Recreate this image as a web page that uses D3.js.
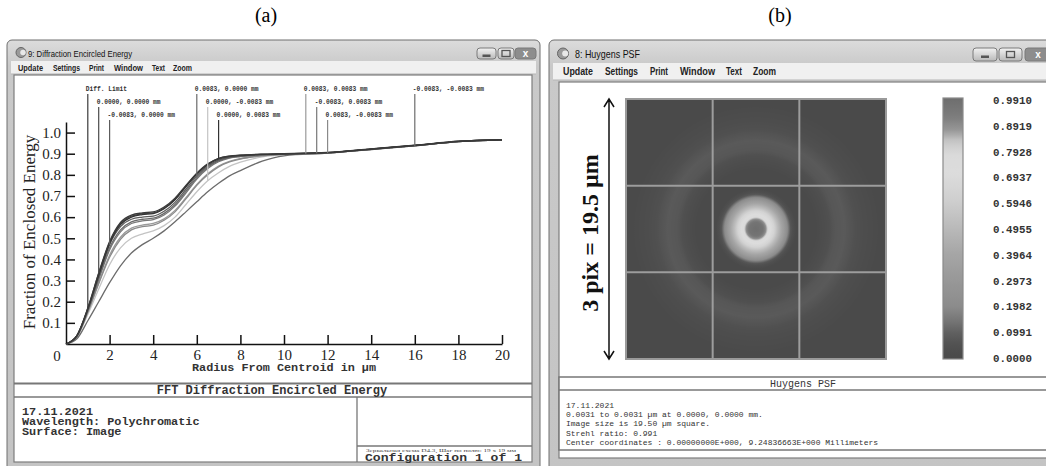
<!DOCTYPE html>
<html>
<head>
<meta charset="utf-8">
<script src="https://cdn.jsdelivr.net/npm/d3@7"></script>
<style>
  body { margin: 0; background: #fff; }
  svg { display: block; }
</style>
</head>
<body>
<svg id="fig" width="1046" height="466"></svg>
<script>
// ---- data: encircled energy (panel a) ----
const radius = [0, 0.5, 1, 1.5, 2, 2.5, 3, 3.5, 4, 4.5, 5, 5.5, 6, 6.5, 7, 7.5, 8, 9, 10, 12, 14, 16, 18, 20];

const fieldNames = ["Diff. Limit", "0.0000, 0.0000 mm", "-0.0083, 0.0000 mm",
  "0.0083, 0.0000 mm", "0.0000, -0.0083 mm", "0.0000, 0.0083 mm",
  "0.0083, 0.0083 mm", "-0.0083, 0.0083 mm", "0.0083, -0.0083 mm", "-0.0083, -0.0083 mm"];

// radius where each field label points at its curve
const labelRadius = [1, 1.5, 2, 6, 6.5, 7, 11, 11.5, 12, 16];

const energy = [
  [0, 0.040, 0.170, 0.335, 0.485, 0.575, 0.610, 0.620, 0.625, 0.648, 0.690, 0.750, 0.808, 0.852, 0.877, 0.888, 0.893, 0.898, 0.900, 0.906, 0.923, 0.940, 0.959, 0.967],
  [0, 0.040, 0.168, 0.335, 0.480, 0.570, 0.605, 0.616, 0.620, 0.643, 0.685, 0.745, 0.803, 0.848, 0.874, 0.886, 0.891, 0.897, 0.899, 0.905, 0.922, 0.939, 0.958, 0.966],
  [0, 0.038, 0.162, 0.320, 0.470, 0.555, 0.590, 0.600, 0.605, 0.628, 0.670, 0.732, 0.795, 0.842, 0.870, 0.884, 0.890, 0.896, 0.899, 0.905, 0.922, 0.938, 0.958, 0.966],
  [0, 0.037, 0.158, 0.310, 0.455, 0.540, 0.578, 0.590, 0.595, 0.618, 0.660, 0.722, 0.787, 0.836, 0.866, 0.882, 0.888, 0.895, 0.898, 0.904, 0.921, 0.938, 0.957, 0.965],
  [0, 0.033, 0.140, 0.260, 0.375, 0.455, 0.500, 0.520, 0.535, 0.560, 0.600, 0.660, 0.720, 0.772, 0.810, 0.840, 0.860, 0.885, 0.895, 0.903, 0.920, 0.937, 0.957, 0.965],
  [0, 0.039, 0.165, 0.325, 0.475, 0.565, 0.600, 0.612, 0.617, 0.640, 0.682, 0.745, 0.805, 0.850, 0.878, 0.889, 0.893, 0.897, 0.899, 0.905, 0.922, 0.939, 0.958, 0.966],
  [0, 0.036, 0.152, 0.290, 0.420, 0.505, 0.548, 0.562, 0.570, 0.592, 0.632, 0.692, 0.755, 0.805, 0.842, 0.864, 0.877, 0.891, 0.897, 0.904, 0.921, 0.938, 0.957, 0.965],
  [0, 0.037, 0.157, 0.305, 0.445, 0.530, 0.570, 0.582, 0.588, 0.610, 0.652, 0.714, 0.780, 0.830, 0.862, 0.879, 0.886, 0.894, 0.898, 0.904, 0.921, 0.938, 0.957, 0.965],
  [0, 0.035, 0.150, 0.285, 0.410, 0.495, 0.540, 0.555, 0.562, 0.585, 0.625, 0.686, 0.750, 0.800, 0.838, 0.861, 0.875, 0.890, 0.897, 0.904, 0.921, 0.938, 0.957, 0.965],
  [0, 0.025, 0.110, 0.200, 0.290, 0.370, 0.430, 0.470, 0.500, 0.535, 0.578, 0.625, 0.673, 0.720, 0.760, 0.795, 0.820, 0.865, 0.890, 0.903, 0.920, 0.937, 0.957, 0.965]
];

const energyTicks = [0.1, 0.2, 0.3, 0.4, 0.5, 0.6, 0.7, 0.8, 0.9, 1.0];
const radiusTicks = [2, 4, 6, 8, 10, 12, 14, 16, 18, 20];

const infoA = ["17.11.2021", "Wavelength: Polychromatic", "Surface: Image"];
const infoB = ["17.11.2021", "0.0031 to 0.0031 \u00b5m at 0.0000, 0.0000 mm.",
  "Image size is 19.50 \u00b5m square.", "Strehl ratio: 0.991",
  "Center coordinates  :  0.00000000E+000,  9.24836663E+000 Millimeters"];

// ---- data: Huygens PSF (panel b) ----
const psfRadius = [0, 0.5, 0.75, 0.9, 1.1, 1.35, 1.6, 1.85, 2.1, 2.35, 2.6, 3.0, 4.5, 5.2, 5.9, 6.6, 7.2, 8.0, 9.3, 14];
const psfIntensity = [0.99, 0.96, 0.88, 0.78, 0.70, 0.64, 0.52, 0.42, 0.32, 0.2, 0.07, 0.0, 0.0, 0.03, 0.07, 0.08, 0.06, 0.03, 0.0, 0.0];
const imageSize = 19.5; // um
const colorTicks = [0.9910, 0.8919, 0.7928, 0.6937, 0.5946, 0.4955, 0.3964, 0.2973, 0.1982, 0.0991, 0.0000];

// grayscale rendering of the rainbow map
const cmapLevel = [0, 0.05, 0.1, 0.15, 0.2, 0.3, 0.4, 0.5, 0.6, 0.7, 0.78, 0.83, 0.87, 0.92, 1.0];
const cmapGray = [74, 80, 96, 120, 140, 152, 166, 186, 206, 220, 218, 196, 150, 124, 108];

const menuItems = ["Update", "Settings", "Print", "Window", "Text", "Zoom"];

const svg = d3.select("#fig");
const defs = svg.append("defs");
const mono = "'Liberation Mono', 'Courier New', monospace";
const serif = "'Liberation Serif', 'Times New Roman', serif";
const sans = "'Liberation Sans', Arial, sans-serif";

const fg = defs.append("linearGradient").attr("id", "frameGrad").attr("x1", 0).attr("y1", 0).attr("x2", 0).attr("y2", 1);
fg.append("stop").attr("offset", 0).attr("stop-color", "#dcdcdc");
fg.append("stop").attr("offset", 0.06).attr("stop-color", "#c9c9c9");
fg.append("stop").attr("offset", 1).attr("stop-color", "#c4c4c4");

const bg = defs.append("linearGradient").attr("id", "btnGrad").attr("x1", 0).attr("y1", 0).attr("x2", 0).attr("y2", 1);
bg.append("stop").attr("offset", 0).attr("stop-color", "#f2f2f2");
bg.append("stop").attr("offset", 1).attr("stop-color", "#b9b9b9");

// figure labels
svg.append("text").attr("x", 266).attr("y", 22).attr("text-anchor", "middle")
  .style("font", "20px " + serif).text("(a)");
svg.append("text").attr("x", 780).attr("y", 22).attr("text-anchor", "middle")
  .style("font", "20px " + serif).text("(b)");

function drawWindow(o) {
  const g = svg.append("g");
  g.append("rect").attr("x", o.x).attr("y", o.y).attr("width", o.w).attr("height", o.h)
    .attr("rx", 5).attr("fill", "url(#frameGrad)").attr("stroke", "#6f6f6f");
  // icon
  g.append("circle").attr("cx", o.x + 14).attr("cy", o.y + o.titleH / 2 + 2).attr("r", o.iconR)
    .attr("fill", "#9a9a9a").attr("stroke", "#666");
  g.append("circle").attr("cx", o.x + 14 + o.iconR * 0.4).attr("cy", o.y + o.titleH / 2 + 2).attr("r", o.iconR * 0.55)
    .attr("fill", "#e8e8e8");
  g.append("text").attr("x", o.x + o.titleX).attr("y", o.y + o.titleH / 2 + 6)
    .style("font", o.titleFont).attr("fill", "#111")
    .attr("textLength", o.titleLen).attr("lengthAdjust", "spacingAndGlyphs").text(o.title);
  // caption buttons
  o.buttons.forEach((b, i) => {
    g.append("rect").attr("x", b[0]).attr("y", o.y + o.btnY).attr("width", b[1]).attr("height", o.btnH)
      .attr("rx", 3).attr("fill", i === 2 ? "#8d8d8d" : "url(#btnGrad)").attr("stroke", "#7a7a7a");
    const cx = b[0] + b[1] / 2, cy = o.y + o.btnY + o.btnH / 2;
    if (i === 0) g.append("rect").attr("x", cx - 4).attr("y", cy + 1).attr("width", 8).attr("height", 2.5).attr("fill", "#555");
    if (i === 1) g.append("rect").attr("x", cx - 4).attr("y", cy - 3).attr("width", 8).attr("height", 6)
      .attr("fill", "none").attr("stroke", "#555").attr("stroke-width", 1.3);
    if (i === 2) g.append("text").attr("x", cx).attr("y", cy + 3.5).attr("text-anchor", "middle")
      .style("font", "bold 10px " + sans).attr("fill", "#fff").text("x");
  });
  // menu bar
  g.append("rect").attr("x", o.x + 4).attr("y", o.y + o.titleH).attr("width", o.w - 8).attr("height", o.menuH)
    .attr("fill", "#f0f0f0");
  g.append("line").attr("x1", o.x + 4).attr("x2", o.x + o.w - 4)
    .attr("y1", o.y + o.titleH + o.menuH).attr("y2", o.y + o.titleH + o.menuH).attr("stroke", "#b5b5b5");
  menuItems.forEach((m, i) => {
    g.append("text").attr("x", o.menuX[i]).attr("y", o.y + o.titleH + o.menuH / 2 + o.menuSize * 0.36)
      .style("font", "bold " + o.menuSize + "px " + sans).attr("fill", "#222")
      .attr("textLength", o.menuW[i]).attr("lengthAdjust", "spacingAndGlyphs").text(m);
  });
  // content area
  g.append("rect").attr("x", o.cx).attr("y", o.cy).attr("width", o.cw).attr("height", o.ch)
    .attr("fill", "#fff").attr("stroke", "#7d7d7d").attr("stroke-width", 1.2);
  return g;
}

// ================= panel (a) =================
drawWindow({
  x: 7, y: 40, w: 533, h: 432, titleH: 21, menuH: 13, iconR: 5,
  title: "9: Diffraction Encircled Energy", titleX: 21, titleLen: 104, titleFont: "9px " + sans,
  buttons: [[477, 19], [498, 16], [515, 21]], btnY: 8, btnH: 11,
  menuX: [18, 53, 89, 114, 152, 173], menuW: [25, 27, 15, 29, 13, 19], menuSize: 8.5,
  cx: 14, cy: 75, cw: 518, ch: 387
});

const x = d3.scaleLinear([0, 20], [66, 502]);
const y = d3.scaleLinear([0, 1.05], [344, 122]);
const gA = svg.append("g");

const yAxis = gA.append("g").attr("transform", "translate(66,0)")
  .call(d3.axisLeft(y).tickValues(energyTicks).tickSizeInner(-9).tickSizeOuter(0).tickPadding(5)
    .tickFormat(d3.format(".1f")));
const xAxis = gA.append("g").attr("transform", "translate(0,344)")
  .call(d3.axisBottom(x).tickValues(radiusTicks).tickSizeInner(-9).tickSizeOuter(0).tickPadding(5)
    .tickFormat(d3.format("d")));
[yAxis, xAxis].forEach(a => {
  a.select(".domain").attr("stroke", "#111").attr("stroke-width", 1.5);
  a.selectAll(".tick line").attr("stroke", "#111").attr("stroke-width", 1.5);
  a.selectAll(".tick text").style("font", "15px " + serif).attr("fill", "#222");
});
gA.append("text").attr("x", 57).attr("y", 361).attr("text-anchor", "middle")
  .style("font", "15px " + serif).attr("fill", "#222").text("0");

gA.append("text").attr("transform", "translate(35,232) rotate(-90)").attr("text-anchor", "middle")
  .style("font", "17px " + serif).attr("fill", "#222").text("Fraction of Enclosed Energy");
gA.append("text").attr("x", 284).attr("y", 371).attr("text-anchor", "middle")
  .style("font", "bold 11.8px " + mono).attr("fill", "#333").text("Radius From Centroid in \u00b5m");

const gray = d3.scaleOrdinal(fieldNames,
  ["#3a3a3a", "#4a4a4a", "#5c5c5c", "#6a6a6a", "#c4c4c4", "#333333", "#9a9a9a", "#777777", "#8a8a8a", "#6c6c6c"]);
const lineGen = d3.line().x(d => x(d[0])).y(d => y(d[1])).curve(d3.curveMonotoneX);
const drawOrder = [4, 6, 8, 9, 7, 3, 2, 1, 5, 0];
gA.append("g").selectAll("path").data(drawOrder).join("path")
  .attr("d", i => lineGen(radius.map((r, k) => [r, energy[i][k]])))
  .attr("fill", "none").attr("stroke", i => gray(fieldNames[i])).attr("stroke-width", 1.3);

// field labels with leaders
const rowY = [88, 101, 114];
fieldNames.forEach((name, i) => {
  const r = labelRadius[i];
  const ty = rowY[i % 3];
  const val = d3.scaleLinear(radius, energy[i])(r);
  gA.append("line").attr("x1", x(r)).attr("x2", x(r)).attr("y1", ty + 6).attr("y2", y(val))
    .attr("stroke", gray(name)).attr("stroke-width", 1.2);
  gA.append("text").attr("x", x(r) - 2).attr("y", ty + 3)
    .style("font", "bold 8px " + mono).attr("fill", "#333")
    .attr("textLength", name.length * 3.75).attr("lengthAdjust", "spacingAndGlyphs").text(name);
});

// info box (a)
const boxA = svg.append("g");
boxA.append("line").attr("x1", 14).attr("x2", 532).attr("y1", 383.5).attr("y2", 383.5).attr("stroke", "#777").attr("stroke-width", 2);
boxA.append("line").attr("x1", 14).attr("x2", 532).attr("y1", 397).attr("y2", 397).attr("stroke", "#777").attr("stroke-width", 1.3);
boxA.append("line").attr("x1", 357).attr("x2", 357).attr("y1", 397).attr("y2", 462).attr("stroke", "#777").attr("stroke-width", 1.3);
boxA.append("line").attr("x1", 357).attr("x2", 532).attr("y1", 446).attr("y2", 446).attr("stroke", "#777").attr("stroke-width", 1.3);
boxA.append("text").attr("x", 272).attr("y", 394).attr("text-anchor", "middle")
  .style("font", "bold 12px " + mono).attr("fill", "#333").text("FFT Diffraction Encircled Energy");
infoA.forEach((t, i) => {
  boxA.append("text").attr("x", 22).attr("y", 415 + i * 10)
    .style("font", "bold 11px " + mono).attr("fill", "#333")
    .attr("textLength", t.length * 7.1).attr("lengthAdjust", "spacingAndGlyphs").text(t);
});
boxA.append("text").attr("x", 366).attr("y", 451.5).style("font", "4.5px " + serif).attr("fill", "#444")
  .attr("textLength", 150).attr("lengthAdjust", "spacingAndGlyphs").text("Зеркальная схема D4.3, Шаг по полю: 19 x 19 мм");
boxA.append("text").attr("x", 365).attr("y", 461)
  .style("font", "bold 11.5px " + mono).attr("fill", "#333")
  .attr("textLength", 157).attr("lengthAdjust", "spacingAndGlyphs").text("Configuration 1 of 1");

// ================= panel (b) =================
drawWindow({
  x: 549, y: 40, w: 520, h: 432, titleH: 23, menuH: 17, iconR: 5.5,
  title: "8: Huygens PSF", titleX: 26, titleLen: 65, titleFont: "11px " + sans,
  buttons: [[973, 24], [999, 23], [1025, 26]], btnY: 8, btnH: 13,
  menuX: [563, 605, 650, 680, 726, 753], menuW: [30, 33, 18, 35, 16, 23], menuSize: 10,
  cx: 559, cy: 82, cw: 500, ch: 376
});

const cmap = d3.scaleLinear(cmapLevel, cmapGray.map(v => d3.rgb(v, v, v))).clamp(true);
const img = { x0: 626, y0: 99, size: 260 };
const pxPerUm = img.size / imageSize;
const psfCx = img.x0 + img.size / 2, psfCy = img.y0 + img.size / 2;
const psfMax = psfRadius[psfRadius.length - 1];
const profile = d3.scaleLinear(psfRadius, psfIntensity);

const rg = defs.append("radialGradient").attr("id", "psfGrad").attr("gradientUnits", "userSpaceOnUse")
  .attr("cx", psfCx).attr("cy", psfCy).attr("r", psfMax * pxPerUm);
d3.range(0, psfMax + 0.001, 0.05).forEach(r => {
  rg.append("stop").attr("offset", r / psfMax).attr("stop-color", cmap(profile(r)));
});

const gB = svg.append("g");
gB.append("rect").attr("x", img.x0).attr("y", img.y0).attr("width", img.size).attr("height", img.size)
  .attr("fill", "url(#psfGrad)").attr("stroke", "#9a9a9a").attr("stroke-width", 2);
const cell = d3.scaleLinear([0, 3], [0, img.size]);
[1, 2].forEach(k => {
  gB.append("line").attr("x1", img.x0 + cell(k)).attr("x2", img.x0 + cell(k))
    .attr("y1", img.y0).attr("y2", img.y0 + img.size).attr("stroke", "#9d9d9d").attr("stroke-width", 2);
  gB.append("line").attr("y1", img.y0 + cell(k)).attr("y2", img.y0 + cell(k))
    .attr("x1", img.x0).attr("x2", img.x0 + img.size).attr("stroke", "#9d9d9d").attr("stroke-width", 2);
});

// scale arrow
const ax = 609;
gB.append("path")
  .attr("d", `M${ax},${img.y0} V${img.y0 + img.size} M${ax - 5},${img.y0 + 8} L${ax},${img.y0} L${ax + 5},${img.y0 + 8}` +
    ` M${ax - 5},${img.y0 + img.size - 8} L${ax},${img.y0 + img.size} L${ax + 5},${img.y0 + img.size - 8}`)
  .attr("fill", "none").attr("stroke", "#111").attr("stroke-width", 1.5);
gB.append("text").attr("transform", `translate(598,${psfCy + 4}) rotate(-90)`).attr("text-anchor", "middle")
  .style("font", "bold 24px " + serif).attr("fill", "#111").text("3 pix = 19.5 \u00b5m");

// colour bar
const cbY = d3.scaleLinear([0, colorTicks[0]], [358, 100]);
const lg = defs.append("linearGradient").attr("id", "cbGrad").attr("x1", 0).attr("y1", 1).attr("x2", 0).attr("y2", 0);
d3.range(0, 1.0001, 0.02).forEach(v => {
  lg.append("stop").attr("offset", v).attr("stop-color", cmap(v * colorTicks[0]));
});
gB.append("rect").attr("x", 943).attr("y", 98).attr("width", 20).attr("height", 261)
  .attr("fill", "url(#cbGrad)").attr("stroke", "#8a8a8a").attr("stroke-width", 1.2);
gB.append("g").selectAll("text").data(colorTicks).join("text")
  .attr("x", 993).attr("y", d => cbY(d) + 4)
  .style("font", "bold 10.8px " + mono).attr("fill", "#333")
  .text(d => d.toFixed(4));

// info box (b)
const boxB = svg.append("g");
boxB.append("rect").attr("x", 559).attr("y", 377).attr("width", 500).attr("height", 73)
  .attr("fill", "#fff").attr("stroke", "#777").attr("stroke-width", 1.5);
boxB.append("line").attr("x1", 559).attr("x2", 1059).attr("y1", 390).attr("y2", 390).attr("stroke", "#777").attr("stroke-width", 1.3);
boxB.append("text").attr("x", 803).attr("y", 387).attr("text-anchor", "middle")
  .style("font", "10px " + mono).attr("fill", "#333").text("Huygens PSF");
infoB.forEach((t, i) => {
  boxB.append("text").attr("x", 566).attr("y", 408 + i * 9.2)
    .style("font", "8px " + mono).attr("fill", "#333").text(t);
});
</script>
</body>
</html>
